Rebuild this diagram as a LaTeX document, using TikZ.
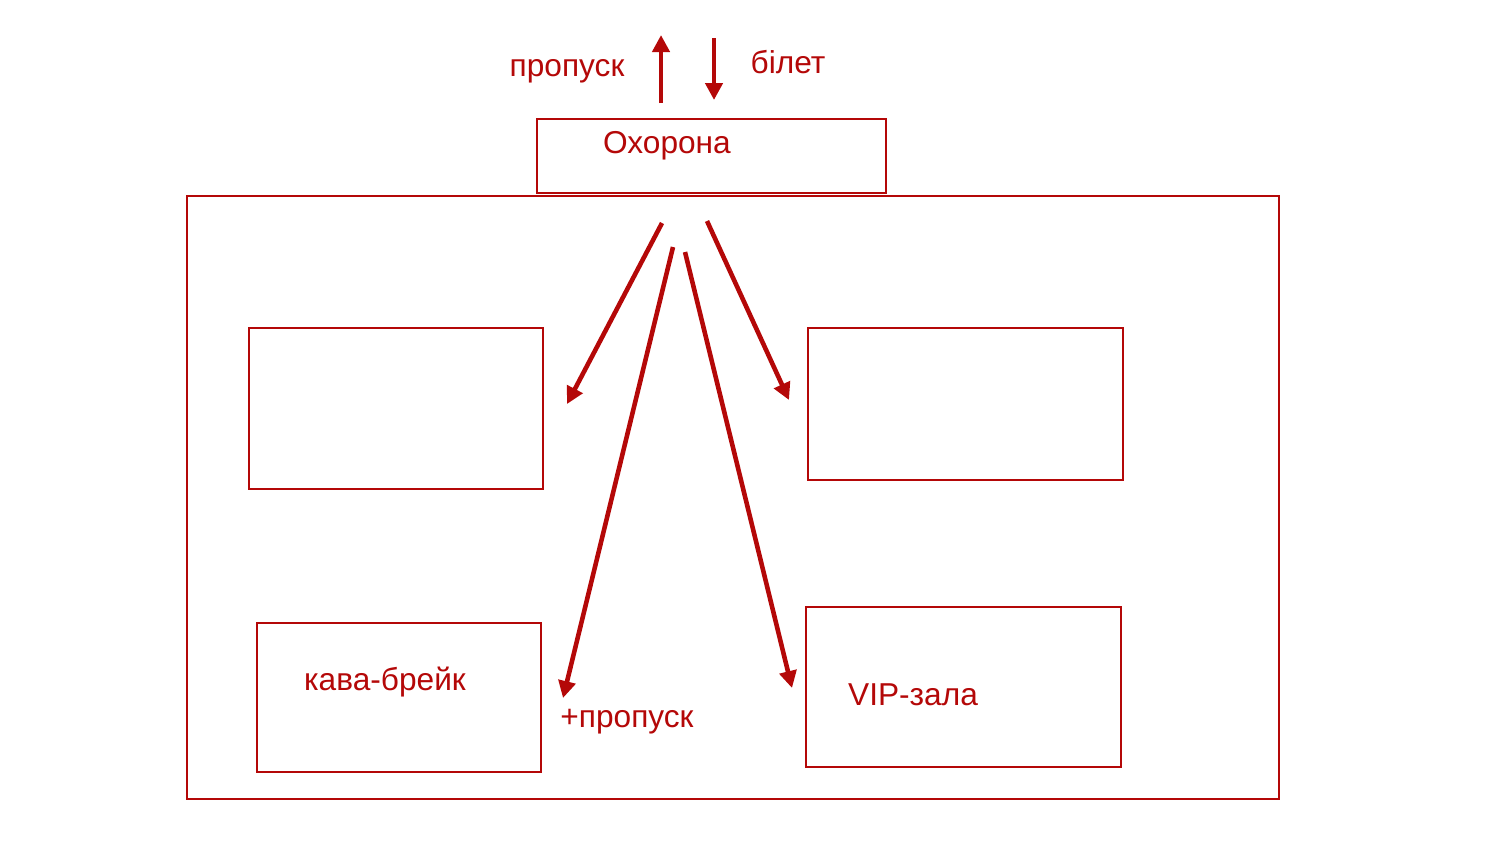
\documentclass[tikz,border=0pt]{standalone}
\usepackage{fontspec}
\setmainfont{Liberation Sans}
\usetikzlibrary{arrows.meta}
\definecolor{HallRed}{RGB}{180,8,8}

\begin{document}
\begin{tikzpicture}[x=0.01cm, y=-0.01cm, >={Triangle[length=0.17cm,width=0.17cm]}, font=\fontsize{9pt}{11pt}\selectfont]
    \tikzstyle{room}=[draw=HallRed, line width=0.6pt, inner sep=0pt, anchor=north west]
    \tikzstyle{lbl}=[text=HallRed, inner sep=1pt]
    \tikzstyle{flow}=[->, HallRed, line width=1.3pt]
    \useasboundingbox (0,0) rectangle (1492,859);
    % rooms
    \node[room, minimum width=10.91cm, minimum height=6.03cm] (hall) at (186,195) {};
    \node[room, minimum width=3.49cm, minimum height=0.74cm] (guard) at (536,118) {};
    \node[room, minimum width=2.94cm, minimum height=1.61cm] (roomA) at (248,327) {};
    \node[room, minimum width=3.15cm, minimum height=1.52cm] (roomB) at (807,327) {};
    \node[room, minimum width=2.84cm, minimum height=1.49cm] (coffee) at (256,622) {};
    \node[room, minimum width=3.15cm, minimum height=1.60cm] (vip) at (805,606) {};
    % labels
    \node[lbl] (guardtxt) at (667,146) {Охорона};
    \node[lbl] (passtxt) at (567,71) {пропуск};
    \node[lbl] (tickettxt) at (788,62) {білет};
    \node[lbl] (coffeetxt) at (385,682) {кава-брейк};
    \node[lbl] (viptxt) at (913,695) {VIP-зала};
    \node[lbl] (pluspass) at (627,722) {+пропуск};
    % arrow ends
    \coordinate (outS) at (661,103);
    \coordinate (outE) at (661,35);
    \coordinate (inS) at (714,38);
    \coordinate (inE) at (714,100);
    \coordinate (aS) at (662,223);
    \coordinate (aE) at (567,404);
    \coordinate (bS) at (707,221);
    \coordinate (bE) at (789,400);
    \coordinate (cS) at (673,247);
    \coordinate (cE) at (563,698);
    \coordinate (dS) at (685,252);
    \coordinate (dE) at (792,688);
    \draw[flow] (outS) -- (outE);
    \draw[flow] (inS) -- (inE);
    \draw[flow] (aS) -- (aE);
    \draw[flow] (bS) -- (bE);
    \draw[flow] (cS) -- (cE);
    \draw[flow] (dS) -- (dE);
\end{tikzpicture}
\end{document}
